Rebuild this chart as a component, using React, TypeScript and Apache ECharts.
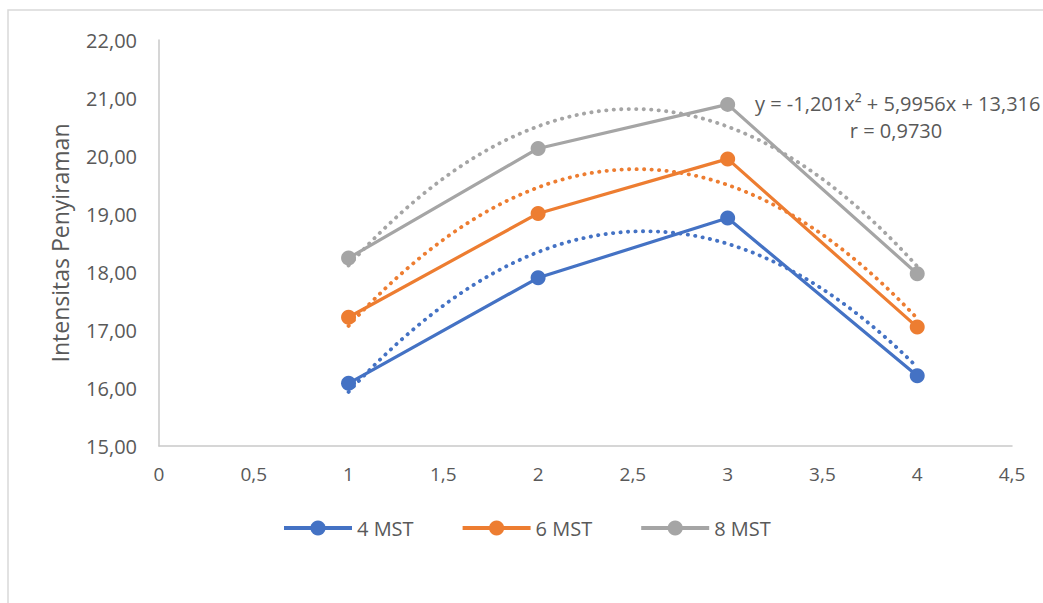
import React, { useEffect, useRef } from "react";
import * as echarts from "echarts";

const xValues = [1, 2, 3, 4];
const seriesNames = ["4 MST", "6 MST", "8 MST"];
const mst4 = [16.08, 17.9, 18.93, 16.21];
const mst6 = [17.22, 19.01, 19.95, 17.05];
const mst8 = [18.24, 20.13, 20.89, 17.97];
const seriesColors = ["#4472C4", "#ED7D31", "#A5A5A5"];
const yAxisTitle = "Intensitas Penyiraman";
const equationLines = ["y = -1,201x² + 5,9956x + 13,316", "r = 0,9730"];

const FONT = "'Open Sans', 'Noto Sans', sans-serif";
const TEXT = "#595959";

// least-squares quadratic trendline (as Excel's polynomial order 2)
function quadFit(xs: number[], ys: number[]) {
  let n = xs.length, sx = 0, sx2 = 0, sx3 = 0, sx4 = 0, sy = 0, sxy = 0, sx2y = 0;
  for (let i = 0; i < n; i++) {
    const x = xs[i], y = ys[i];
    sx += x; sx2 += x * x; sx3 += x * x * x; sx4 += x * x * x * x;
    sy += y; sxy += x * y; sx2y += x * x * y;
  }
  const det3 = (m: number[][]) =>
    m[0][0] * (m[1][1] * m[2][2] - m[1][2] * m[2][1]) -
    m[0][1] * (m[1][0] * m[2][2] - m[1][2] * m[2][0]) +
    m[0][2] * (m[1][0] * m[2][1] - m[1][1] * m[2][0]);
  const A = [[sx4, sx3, sx2], [sx3, sx2, sx], [sx2, sx, n]];
  const B = [sx2y, sxy, sy];
  const D = det3(A);
  const col = (k: number) => A.map((r, i) => r.map((v, j) => (j === k ? B[i] : v)));
  return [det3(col(0)) / D, det3(col(1)) / D, det3(col(2)) / D];
}

function trend(ys: number[]) {
  const [a, b, c] = quadFit(xValues, ys);
  const pts: number[][] = [];
  const x0 = xValues[0], x1 = xValues[xValues.length - 1];
  const steps = 90;
  for (let i = 0; i <= steps; i++) {
    const x = x0 + ((x1 - x0) * i) / steps;
    pts.push([x, a * x * x + b * x + c]);
  }
  return pts;
}

export default function App() {
  const ref = useRef<HTMLDivElement>(null);
  useEffect(() => {
    document.body.style.margin = "0";
    const chart = echarts.init(ref.current!, null, { renderer: "svg" });
    const datasets = [mst4, mst6, mst8];
    const dataSeries = datasets.map((d, i) => ({
      name: seriesNames[i],
      type: "line",
      data: xValues.map((x, j) => [x, d[j]]),
      symbol: "circle",
      symbolSize: 15,
      lineStyle: { width: 3.2, color: seriesColors[i] },
      itemStyle: { color: seriesColors[i] },
      z: 3,
    }));
    const trendSeries = datasets.map((d, i) => ({
      name: seriesNames[i] + " trend",
      type: "line",
      data: trend(d),
      showSymbol: false,
      symbol: "none",
      lineStyle: { width: 3.8, color: seriesColors[i], type: [0.3, 7.2], cap: "round" },
      z: 4,
    }));
    chart.setOption({
      animation: false,
      color: seriesColors,
      grid: { left: 159, right: 31, top: 40, bottom: 157, containLabel: false },
      xAxis: {
        type: "value",
        min: 0,
        max: 4.5,
        interval: 0.5,
        axisLine: { show: true, lineStyle: { color: "#c9c9c9", width: 1.5 } },
        axisTick: { show: false },
        splitLine: { show: false },
        axisLabel: {
          color: TEXT,
          fontFamily: FONT,
          fontSize: 19,
          margin: 18,
          formatter: (v: number) => String(v).replace(".", ","),
        },
      },
      yAxis: {
        type: "value",
        min: 15,
        max: 22,
        interval: 1,
        name: yAxisTitle,
        nameLocation: "middle",
        nameGap: 88,
        nameTextStyle: { color: TEXT, fontFamily: FONT, fontSize: 23 },
        axisLine: { show: true, lineStyle: { color: "#c9c9c9", width: 1.5 } },
        axisTick: { show: false },
        splitLine: { show: false },
        axisLabel: {
          color: TEXT,
          fontFamily: FONT,
          fontSize: 20,
          margin: 22,
          formatter: (v: number) => v.toFixed(2).replace(".", ","),
        },
      },
      legend: {
        data: seriesNames,
        left: 277,
        top: 513,
        itemWidth: 68,
        itemHeight: 19,
        itemGap: 47,
        lineStyle: { width: 4 },
        textStyle: { color: TEXT, fontFamily: FONT, fontSize: 20 },
      },
      graphic: [
        {
          type: "rect",
          shape: { x: 8, y: 10, width: 1200, height: 800 },
          style: { fill: "none", stroke: "#d9d9d9", lineWidth: 1.5 },
          silent: true,
          z: -1,
        },
        {
          type: "text",
          x: 755,
          y: 103,
          style: {
            text: equationLines[0],
            fill: TEXT,
            font: `20px ${FONT}`,
            verticalAlign: "middle",
            align: "left",
          },
        },
        {
          type: "text",
          x: 896,
          y: 130,
          style: {
            text: equationLines[1],
            fill: TEXT,
            font: `20px ${FONT}`,
            verticalAlign: "middle",
            align: "center",
          },
        },
      ],
      series: [...dataSeries, ...trendSeries],
    });
    return () => chart.dispose();
  }, []);
  return <div ref={ref} style={{ width: 1043, height: 603 }} />;
}
